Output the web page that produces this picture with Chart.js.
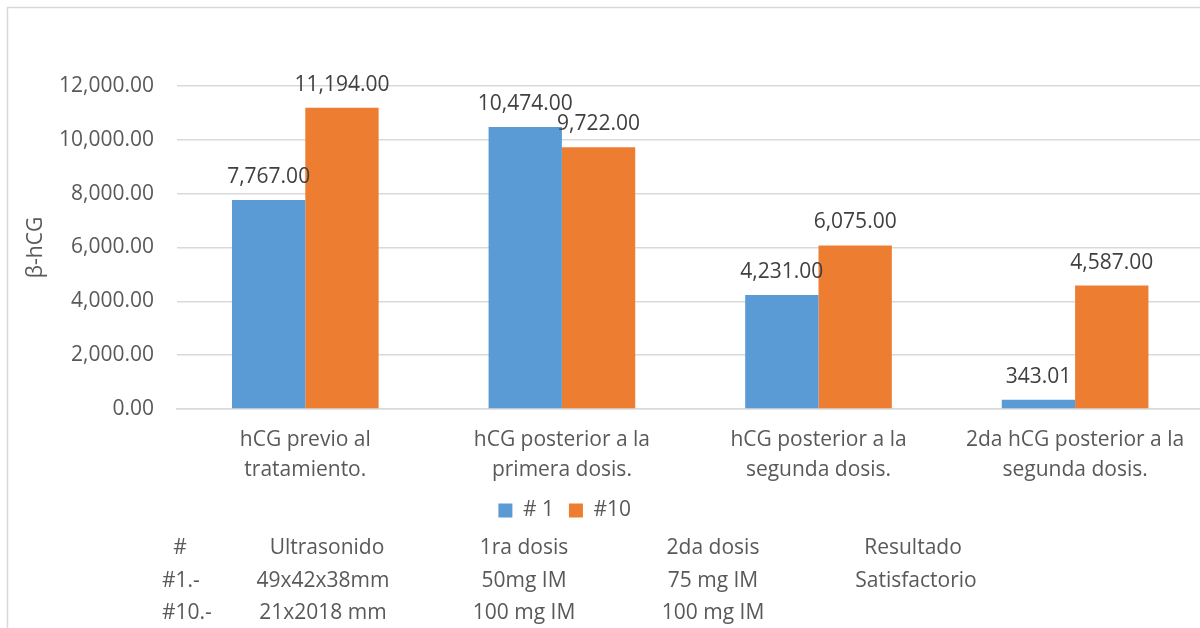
<!DOCTYPE html>
<html>
<head>
<meta charset="utf-8">
<script src="https://cdn.jsdelivr.net/npm/chart.js@4/dist/chart.umd.min.js"></script>
<style>
  html, body { margin: 0; padding: 0; background: #fff; overflow: hidden; width: 1200px; height: 628px; }
  #wrap { position: absolute; left: 0; top: 0; width: 1210px; height: 628px; }
</style>
</head>
<body>
<div id="wrap"><canvas id="c"></canvas></div>
<script>
// Categories (multi-line x labels)
const categories = [
  ["hCG previo al", "tratamiento."],
  ["hCG posterior a la", "primera dosis."],
  ["hCG posterior a la", "segunda dosis."],
  ["2da hCG posterior a la", "segunda dosis."]
];
// Series
const seriesNames = ["# 1", "#10"];
const caso1 = [7767, 10474, 4231, 343.01];
const caso10 = [11194, 9722, 6075, 4587];
// Y axis ticks
const yTickValues = [0, 2000, 4000, 6000, 8000, 10000, 12000];
const yTitle = "β-hCG";
// Case summary shown under the legend
const tableHeader = ["#", "Ultrasonido", "1ra dosis", "2da dosis", "Resultado"];
const tableRow1 = ["#1.-", "49x42x38mm", "50mg IM", "75 mg IM", "Satisfactorio"];
const tableRow10 = ["#10.-", "21x2018 mm", "100 mg IM", "100 mg IM", ""];

const FONT = "'Open Sans', sans-serif";
const TEXT = "#595959";
const fmt = v => v.toLocaleString("en-US", { minimumFractionDigits: 2, maximumFractionDigits: 2 });

Chart.defaults.font.family = FONT;
Chart.defaults.font.size = 21;
Chart.defaults.color = TEXT;

// White background and light outer frame
const framePlugin = {
  id: "frame",
  beforeDraw(chart) {
    const ctx = chart.ctx;
    ctx.save();
    ctx.fillStyle = "#fff";
    ctx.fillRect(0, 0, chart.width, chart.height);
    ctx.strokeStyle = "#d9d9d9";
    ctx.lineWidth = 1.5;
    ctx.strokeRect(7.5, 7.5, chart.width + 50, chart.height + 50);
    ctx.restore();
  }
};

// Value labels above each bar
const valueLabels = {
  id: "valueLabels",
  afterDatasetsDraw(chart) {
    const ctx = chart.ctx;
    ctx.save();
    ctx.font = "21px " + FONT;
    ctx.fillStyle = "#404040";
    ctx.textAlign = "center";
    ctx.textBaseline = "alphabetic";
    chart.data.datasets.forEach((ds, di) => {
      chart.getDatasetMeta(di).data.forEach((bar, i) => {
        ctx.fillText(fmt(ds.data[i]), bar.x, bar.y - 17);
      });
    });
    ctx.restore();
  }
};

// Nudge the legend to sit left of center, under the plot
const legendShift = {
  id: "legendShift",
  afterLayout(chart) {
    const lg = chart.legend;
    if (lg) { lg.left -= 37; lg.right -= 37; }
  }
};

// Summary table text below the legend
const notesTable = {
  id: "notesTable",
  afterDraw(chart) {
    const ctx = chart.ctx;
    ctx.save();
    ctx.font = "21px " + FONT;
    ctx.fillStyle = TEXT;
    ctx.textBaseline = "middle";
    const headCx = [180, 327, 524, 713, 913];
    const bodyCx = [162, 323, 524, 713, 916];
    const rowsY = [548, 581, 613];
    tableHeader.forEach((t, j) => {
      ctx.textAlign = "center";
      ctx.fillText(t, headCx[j], rowsY[0]);
    });
    [tableRow1, tableRow10].forEach((row, r) => {
      row.forEach((t, j) => {
        ctx.textAlign = j === 0 ? "left" : "center";
        ctx.fillText(t, bodyCx[j], rowsY[r + 1]);
      });
    });
    ctx.restore();
  }
};

new Chart(document.getElementById("c"), {
  type: "bar",
  data: {
    labels: categories,
    datasets: [
      { label: seriesNames[0], data: caso1, backgroundColor: "#5B9BD5" },
      { label: seriesNames[1], data: caso10, backgroundColor: "#ED7D31" }
    ]
  },
  options: {
    responsive: true,
    maintainAspectRatio: false,
    animation: false,
    devicePixelRatio: 1,
    layout: { padding: { left: 0, top: 86, right: 6.6, bottom: 97 } },
    datasets: { bar: { categoryPercentage: 0.5715, barPercentage: 1.0 } },
    scales: {
      x: {
        afterFit(scale) { scale.height = 76; },
        grid: { display: false, drawTicks: false },
        border: { display: true, color: "#d9d9d9", width: 1.5 },
        ticks: { color: TEXT, font: { size: 21, lineHeight: 30 / 21 }, padding: 16, maxRotation: 0, autoSkip: false }
      },
      y: {
        min: 0,
        max: 12000,
        afterBuildTicks(scale) { scale.ticks = yTickValues.map(v => ({ value: v })); },
        afterFit(scale) { scale.width = 177; },
        grid: { color: "#d9d9d9", lineWidth: 1.5, drawTicks: false },
        border: { display: false },
        ticks: { color: TEXT, padding: 23, callback: v => fmt(v) },
        title: { display: true, text: yTitle, color: TEXT, font: { size: 21 }, padding: { top: 23, bottom: 0 } }
      }
    },
    plugins: {
      legend: {
        position: "bottom",
        labels: { boxWidth: 14, boxHeight: 14, padding: 15, color: TEXT, font: { size: 21 } }
      },
      tooltip: { enabled: false }
    }
  },
  plugins: [framePlugin, valueLabels, legendShift, notesTable]
});
</script>
</body>
</html>
